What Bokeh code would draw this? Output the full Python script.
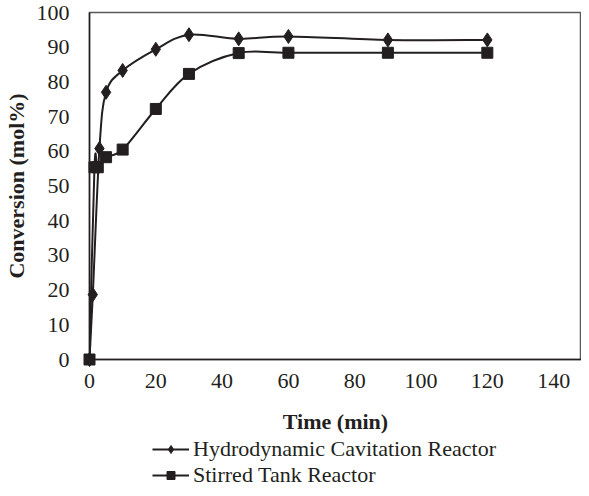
from bokeh.plotting import figure
from bokeh.models import Range1d, FixedTicker, Legend, LegendItem, ColumnDataSource
from bokeh.layouts import column
from bokeh.embed import file_html
from bokeh.resources import INLINE

# ---- data ----
time_hc = [0, 1, 3, 5, 10, 20, 30, 45, 60, 90, 120]
conv_hc = [0, 18.7, 60.8, 77.0, 83.3, 89.4, 93.6, 92.4, 93.1, 92.1, 92.1]
time_st = [0, 1.5, 2.5, 5, 10, 20, 30, 45, 60, 90, 120]
conv_st = [0, 55.4, 55.4, 58.3, 60.5, 72.2, 82.3, 88.3, 88.4, 88.4, 88.4]
series_names = ["Hydrodynamic Cavitation Reactor", "Stirred Tank Reactor"]
x_ticks = [0, 20, 40, 60, 80, 100, 120, 140]
y_ticks = [0, 10, 20, 30, 40, 50, 60, 70, 80, 90, 100]
x_title = "Time (min)"
y_title = "Conversion (mol%)"

INK = "#231f20"
FONT = "Liberation Serif"


def smooth_segments(xs, ys):
    """Cubic Bezier control points (Catmull-Rom style, like a smoothed spreadsheet line)."""
    n = len(xs)
    d = dict(x0=[], y0=[], x1=[], y1=[], cx0=[], cy0=[], cx1=[], cy1=[])
    for i in range(n - 1):
        pxp, pyp = (xs[i - 1], ys[i - 1]) if i > 0 else (xs[i], ys[i])
        pxn, pyn = (xs[i + 2], ys[i + 2]) if i + 2 < n else (xs[i + 1], ys[i + 1])
        d["x0"].append(xs[i]); d["y0"].append(ys[i])
        d["x1"].append(xs[i + 1]); d["y1"].append(ys[i + 1])
        d["cx0"].append(xs[i] + (xs[i + 1] - pxp) / 6.0)
        d["cy0"].append(ys[i] + (ys[i + 1] - pyp) / 6.0)
        d["cx1"].append(xs[i + 1] - (pxn - xs[i]) / 6.0)
        d["cy1"].append(ys[i + 1] - (pyn - ys[i]) / 6.0)
    return ColumnDataSource(d)


p = figure(width=581, height=436, output_backend="svg", toolbar_location=None,
           x_range=Range1d(0, 148.4), y_range=Range1d(0, 100),
           min_border_left=85, min_border_right=0, min_border_top=12, min_border_bottom=10)

p.background_fill_color = "white"
p.border_fill_color = "white"
p.outline_line_color = "#595959"
p.outline_line_width = 1.5
p.grid.visible = False

for ax in (p.xaxis[0], p.yaxis[0]):
    ax.axis_line_color = INK
    ax.axis_line_width = 1.5
    ax.major_tick_out = 0
    ax.major_tick_in = 0
    ax.minor_tick_out = 0
    ax.minor_tick_in = 0
    ax.major_label_text_font = FONT
    ax.major_label_text_font_size = "22px"
    ax.major_label_text_color = INK
    ax.axis_label_text_font = FONT
    ax.axis_label_text_font_size = "22px"
    ax.axis_label_text_font_style = "bold"
    ax.axis_label_text_color = INK

p.xaxis.ticker = FixedTicker(ticks=x_ticks)
p.yaxis.ticker = FixedTicker(ticks=y_ticks)
p.xaxis.axis_label = x_title
p.yaxis.axis_label = y_title
p.xaxis.major_label_standoff = 14
p.yaxis.major_label_standoff = 20
p.xaxis.axis_label_standoff = 18
p.yaxis.axis_label_standoff = 5

src_hc = smooth_segments(time_hc, conv_hc)
src_st = smooth_segments(time_st, conv_st)

p.bezier("x0", "y0", "x1", "y1", "cx0", "cy0", "cx1", "cy1", source=src_hc,
         line_color=INK, line_width=2)
p.bezier("x0", "y0", "x1", "y1", "cx0", "cy0", "cx1", "cy1", source=src_st,
         line_color=INK, line_width=2)
p.scatter(time_hc, conv_hc, marker="diamond", size=14, fill_color=INK,
          line_color=INK, level="overlay")
p.scatter(time_st, conv_st, marker="square", size=11, fill_color=INK,
          line_color=INK, level="overlay")

# ---- legend strip under the chart (its renderers lie outside its own view) ----
q = figure(width=581, height=52, output_backend="svg", toolbar_location=None,
           x_axis_location=None, y_axis_location=None,
           x_range=Range1d(1000, 1001), y_range=Range1d(1000, 1001),
           min_border=0, outline_line_color=None)
q.grid.visible = False
q.background_fill_color = "white"
q.border_fill_color = "white"
l_hc = q.line(time_hc, conv_hc, line_color=INK, line_width=2)
s_hc = q.scatter(time_hc, conv_hc, marker="diamond", size=11, fill_color=INK, line_color=INK)
l_st = q.line(time_st, conv_st, line_color=INK, line_width=2)
s_st = q.scatter(time_st, conv_st, marker="square", size=9, fill_color=INK, line_color=INK)

legend = Legend(items=[LegendItem(label=series_names[0], renderers=[l_hc, s_hc]),
                       LegendItem(label=series_names[1], renderers=[l_st, s_st])],
                location=(63, 0), orientation="vertical")
legend.border_line_color = None
legend.background_fill_alpha = 0
legend.padding = 0
legend.margin = 0
legend.spacing = 0
legend.glyph_width = 37
legend.glyph_height = 20
legend.label_height = 20
legend.label_standoff = 4
legend.label_text_font = FONT
legend.label_text_font_size = "22px"
legend.label_text_color = INK
q.add_layout(legend, "center")

layout = column(p, q, spacing=0)
open("out.html", "w").write(file_html(layout, INLINE))
